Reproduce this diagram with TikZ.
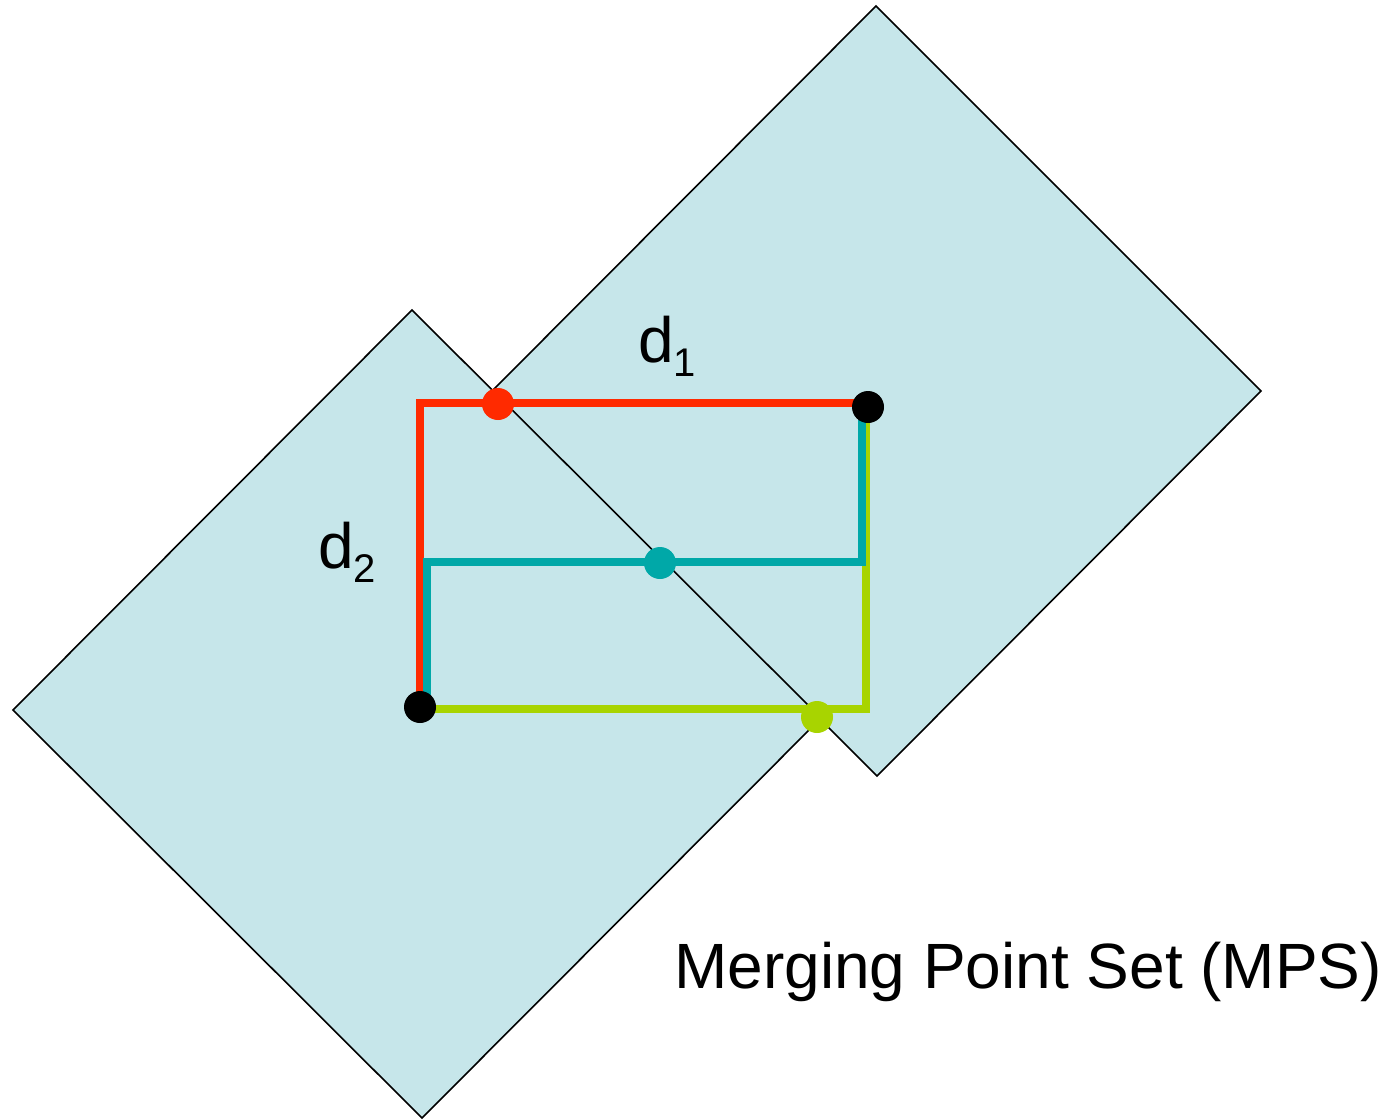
\documentclass[tikz,border=0pt]{standalone}
\usepackage{fontspec}
\setmainfont{Liberation Sans}
\definecolor{sqfill}{HTML}{C6E6EA}
\definecolor{mpsred}{HTML}{FF2A00}
\definecolor{mpsteal}{HTML}{00A8A8}
\definecolor{mpsyel}{HTML}{A8D400}
\begin{document}
\begin{tikzpicture}[x=1pt,y=-1pt,
  region/.style={fill=sqfill,draw=black,line width=1.6pt,line join=miter},
  wire/.style={line width=8pt,line join=miter,line cap=butt},
  dot/.style={circle,inner sep=0pt,minimum size=32pt,draw=none},
  lbl/.style={inner sep=0pt,anchor=base west,font=\fontsize{64}{76}\selectfont},
  sub/.style={font=\fontsize{40}{48}\selectfont}]
\useasboundingbox (0,0) rectangle (1391,1119);
% tilted squares
\draw[region] (876,6) -- (1261,391) -- (877,776) -- (492,391) -- cycle;
\draw[region] (412,310) -- (821,718) -- (422,1118) -- (13,710) -- cycle;
% corner coordinates of the paths
\coordinate (rc) at (420,403);
\coordinate (rend) at (868,403);
\coordinate (tt) at (862,407);
\coordinate (tr) at (862,562);
\coordinate (tl) at (427,562);
\coordinate (tb) at (427,700);
\coordinate (yt) at (866,420);
\coordinate (yc) at (866,709);
\coordinate (yl) at (420,709);
\coordinate (rb) at (420,707);
% paths
\draw[wire,mpsyel] (yt) -- (yc) -- (yl);
\draw[wire,mpsred] (rb) -- (rc) -- (rend);
\draw[wire,mpsteal] (tt) -- (tr) -- (tl) -- (tb);
% points
\node[dot,fill=black] (s1) at (868,407) {};
\node[dot,fill=black] (s2) at (420,707) {};
\node[dot,fill=mpsred] (mr) at (498,404) {};
\node[dot,fill=mpsteal] (mt) at (660,563) {};
\node[dot,fill=mpsyel] (my) at (817,717) {};
% labels
\node[lbl] (d1) at (638,362) {d\raisebox{-14pt}{\fontsize{40}{48}\selectfont 1}};
\node[lbl] (d2) at (318,568) {d\raisebox{-14pt}{\fontsize{40}{48}\selectfont 2}};
\node[lbl] (mps) at (674,988) {Merging Point Set (MPS)};
\end{tikzpicture}
\end{document}
